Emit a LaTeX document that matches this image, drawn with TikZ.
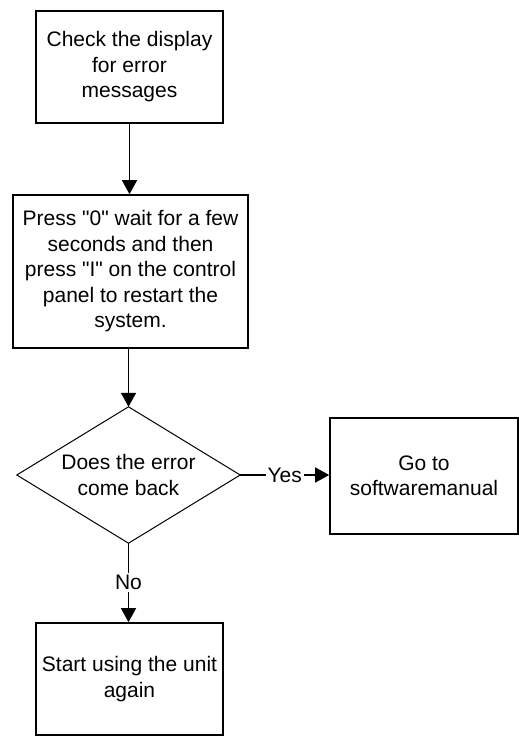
\documentclass[tikz,border=0pt]{standalone}
\usepackage{fontspec}
\setmainfont{Liberation Sans}[Ligatures=TeXOff]
\usetikzlibrary{arrows.meta}
\begin{document}
\begin{tikzpicture}[x=1pt,y=-1pt,
  every node/.style={font=\fontsize{21}{25.5}\selectfont, align=center},
  procbox/.style={draw, line width=1.6pt, inner sep=0pt},
  decline/.style={draw, line width=1pt, line join=miter},
  conn/.style={line width=1.4pt, -{Triangle[length=14pt,width=15pt]}},
  lbl/.style={fill=white, inner sep=2pt}]
\useasboundingbox (0,0) rectangle (519,737);
\fill[white] (0,0) rectangle (519,737);
\node[procbox, minimum width=187pt, minimum height=112pt] (b1) at (129.5,67) {Check the display\\for error\\messages};
\node[procbox, minimum width=235pt, minimum height=153pt] (b2) at (130.5,271.5) {Press "0" wait for a few\\seconds and then\\press "I" on the control\\panel to restart the\\system.};
\node[minimum width=223pt, minimum height=136pt, inner sep=0pt] (d) at (128.5,475) {Does the error\\come back};
\draw[decline] (d.north) -- (d.east) -- (d.south) -- (d.west) -- cycle;
\node[procbox, minimum width=188pt, minimum height=116pt] (b3) at (424,476) {Go to\\softwaremanual};
\node[procbox, minimum width=187pt, minimum height=112pt] (b4) at (129.5,679) {Start using the unit\\again};
\draw[conn] (b1.south) -- (b1.south |- b2.north);
\draw[conn] (d.north |- b2.south) -- (d.north);
\draw[conn] (d.east) -- (d.east -| b3.west) node[lbl, midway] (yes) {Yes};
\draw[conn] (d.south) -- (d.south |- b4.north) node[lbl, midway] (no) {No};
\end{tikzpicture}
\end{document}
